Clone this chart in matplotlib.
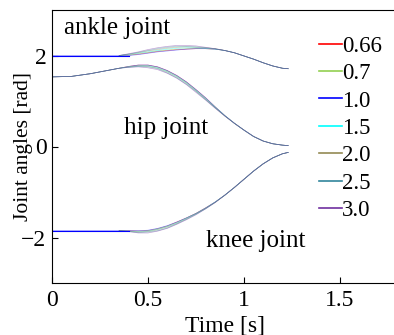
import matplotlib
matplotlib.use('Agg')
import matplotlib.pyplot as plt

# time grid (s): shared head / per-series middle / shared tail
t_head = [0.0, 0.1, 0.2, 0.3]
t_mid = [0.35, 0.4, 0.45, 0.5, 0.55, 0.6, 0.65, 0.7, 0.75, 0.8, 0.85, 0.9, 0.95]
t_tail = [1.0, 1.05, 1.1, 1.15, 1.2, 1.23]

labels = ['0.66', '0.7', '1.0', '1.5', '2.0', '2.5', '3.0']
colors = ['#ff0000', '#92d050', '#0000ff', '#00ffff', '#948a54', '#31859c', '#7030a0']

# ankle joint
ankle_head = [2.00, 2.00, 2.00, 2.00]
ankle_mid = [
    [2.00, 2.01, 2.03, 2.06, 2.09, 2.11, 2.13, 2.14, 2.15, 2.15, 2.14, 2.11, 2.06],
    [2.00, 2.01, 2.04, 2.07, 2.10, 2.12, 2.14, 2.15, 2.16, 2.15, 2.14, 2.11, 2.06],
    [2.00, 2.00, 2.02, 2.05, 2.08, 2.10, 2.12, 2.14, 2.15, 2.15, 2.14, 2.11, 2.06],
    [2.00, 2.02, 2.05, 2.08, 2.11, 2.14, 2.16, 2.17, 2.17, 2.16, 2.14, 2.11, 2.06],
    [2.00, 2.03, 2.06, 2.10, 2.13, 2.16, 2.18, 2.19, 2.18, 2.17, 2.15, 2.11, 2.06],
    [2.00, 2.03, 2.07, 2.11, 2.15, 2.18, 2.20, 2.20, 2.19, 2.17, 2.15, 2.11, 2.06],
    [2.00, 2.04, 2.08, 2.13, 2.17, 2.20, 2.22, 2.22, 2.21, 2.18, 2.15, 2.11, 2.06],
]
ankle_tail = [1.99, 1.92, 1.84, 1.77, 1.72, 1.71]

# hip joint
hip_head = [1.53, 1.54, 1.60, 1.68]
hip_mid = [
    [1.72, 1.76, 1.79, 1.79, 1.75, 1.67, 1.56, 1.42, 1.25, 1.07, 0.87, 0.68, 0.51],
    [1.72, 1.76, 1.78, 1.78, 1.74, 1.66, 1.55, 1.41, 1.24, 1.06, 0.87, 0.68, 0.51],
    [1.72, 1.76, 1.79, 1.79, 1.75, 1.67, 1.56, 1.42, 1.25, 1.07, 0.87, 0.68, 0.51],
    [1.72, 1.75, 1.77, 1.77, 1.73, 1.65, 1.54, 1.40, 1.23, 1.05, 0.86, 0.68, 0.51],
    [1.72, 1.75, 1.77, 1.76, 1.72, 1.64, 1.53, 1.39, 1.22, 1.04, 0.85, 0.67, 0.51],
    [1.72, 1.74, 1.76, 1.75, 1.71, 1.62, 1.51, 1.37, 1.21, 1.03, 0.85, 0.67, 0.51],
    [1.72, 1.74, 1.75, 1.73, 1.69, 1.61, 1.50, 1.36, 1.19, 1.02, 0.84, 0.67, 0.51],
]
hip_tail = [0.36, 0.22, 0.12, 0.06, 0.03, 0.02]

# knee joint
knee_head = [-1.85, -1.85, -1.85, -1.85]
knee_mid = [
    [-1.85, -1.85, -1.86, -1.85, -1.81, -1.75, -1.66, -1.57, -1.47, -1.35, -1.22, -1.07, -0.90],
    [-1.85, -1.86, -1.86, -1.85, -1.81, -1.75, -1.67, -1.57, -1.47, -1.35, -1.22, -1.07, -0.90],
    [-1.85, -1.85, -1.85, -1.84, -1.80, -1.74, -1.66, -1.57, -1.47, -1.35, -1.22, -1.07, -0.90],
    [-1.85, -1.86, -1.87, -1.86, -1.82, -1.76, -1.68, -1.58, -1.48, -1.36, -1.22, -1.07, -0.90],
    [-1.85, -1.86, -1.88, -1.87, -1.83, -1.77, -1.69, -1.59, -1.48, -1.36, -1.23, -1.07, -0.90],
    [-1.85, -1.87, -1.89, -1.88, -1.85, -1.79, -1.70, -1.60, -1.49, -1.37, -1.23, -1.07, -0.90],
    [-1.85, -1.87, -1.90, -1.90, -1.86, -1.80, -1.71, -1.61, -1.50, -1.37, -1.23, -1.07, -0.90],
]
knee_tail = [-0.72, -0.54, -0.38, -0.25, -0.16, -0.13]

plt.rcParams['font.family'] = ['Liberation Serif', 'DejaVu Serif']
plt.rcParams['font.size'] = 16

fig = plt.figure(figsize=(3.94, 3.35), dpi=100)
ax = fig.add_axes([52 / 394, 1 - 283 / 335, 345.6 / 394, 273 / 335])

t_all = t_head + t_mid + t_tail
t_part = t_mid + t_tail
for i in range(len(labels)):
    c = colors[i]
    # hip plotted from t=0 for every case
    ax.plot(t_all, hip_head + hip_mid[i] + hip_tail, color=c, lw=0.5, alpha=0.45)
    if labels[i] == '1.0':
        ax.plot(t_all, ankle_head + ankle_mid[i] + ankle_tail, color=c, lw=0.5, alpha=0.45,
                label=labels[i])
        ax.plot(t_all, knee_head + knee_mid[i] + knee_tail, color=c, lw=0.5, alpha=0.45)
    else:
        ax.plot(t_part, ankle_mid[i] + ankle_tail, color=c, lw=0.5, alpha=0.45, label=labels[i])
        ax.plot(t_part, knee_mid[i] + knee_tail, color=c, lw=0.5, alpha=0.45)

# blue flat start drawn on top
ax.plot(t_head + t_mid[:2], ankle_head + ankle_mid[2][:2], color='#0000ff', lw=0.8)
ax.plot(t_head + t_mid[:2], knee_head + knee_mid[2][:2], color='#0000ff', lw=0.8)

ax.set_xlim(0, 1.8)
ax.set_ylim(-3, 3)
ax.set_xticks([0, 0.5, 1, 1.5])
ax.set_xticklabels(['0', '0.5', '1', '1.5'])
ax.set_yticks([-2, 0, 2])
ax.tick_params(direction='in', length=4, width=0.8, labelsize=17)
ax.tick_params(axis='x', pad=5)
ax.tick_params(axis='y', pad=4)
ax.set_xlabel('Time [s]', fontsize=17)
ax.xaxis.set_label_coords(0.5, -0.118)
ax.set_ylabel('Joint angles [rad]', fontsize=15.5)
ax.yaxis.set_label_coords(-0.055, 0.5)

ax.text(0.062, 2.6, 'ankle joint', ha='left', va='center', fontsize=18)
ax.text(0.375, 0.40, 'hip joint', ha='left', va='center', fontsize=18)
ax.text(0.80, -2.07, 'knee joint', ha='left', va='center', fontsize=18)

leg = ax.legend(loc='upper left', bbox_to_anchor=(0.745, 0.94), frameon=False,
                handlelength=1.0, handletextpad=0.02, labelspacing=0.28,
                borderaxespad=0, fontsize=16.5)
for h in leg.get_lines():
    h.set_alpha(1)
    h.set_linewidth(1.2)

fig.savefig('out.png', dpi=100)
